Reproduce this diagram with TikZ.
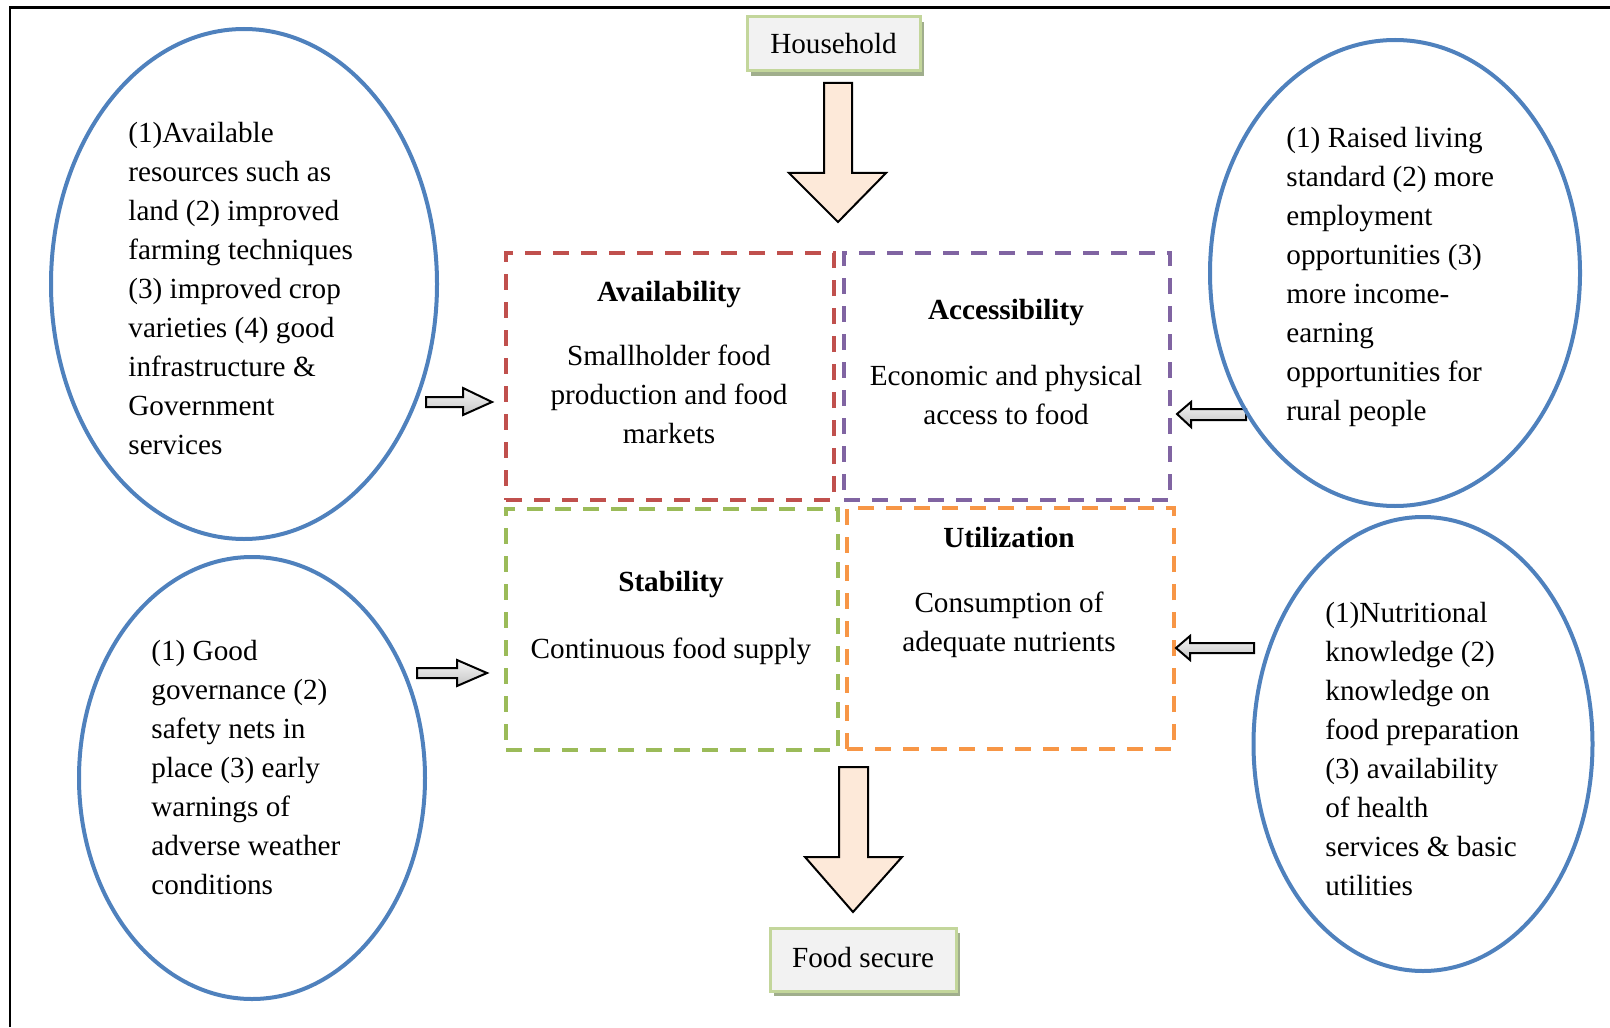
\documentclass[tikz,border=0pt]{standalone}
\usepackage{fontspec}
\setmainfont{Liberation Serif}
\usetikzlibrary{shapes.geometric,shadows}
\definecolor{ellblue}{HTML}{4F81BD}
\definecolor{availred}{HTML}{C0504D}
\definecolor{accpurple}{HTML}{8064A2}
\definecolor{stabgreen}{HTML}{9BBB59}
\definecolor{utilorange}{HTML}{F79646}
\definecolor{peach}{HTML}{FDE9D9}
\definecolor{tagborder}{HTML}{C3D69B}
\definecolor{tagfill}{HTML}{F2F2F2}
\definecolor{tagshadow}{RGB}{160,174,140}
\begin{document}
\begin{tikzpicture}[x=0.5pt,y=-0.5pt,
  txt/.style={inner sep=0pt, font=\fontsize{14.6}{19.5}\selectfont},
  ttl/.style={txt, font=\fontsize{14.6}{19.5}\selectfont\bfseries},
  pillar/.style={draw, dash pattern=on 8pt off 6pt, line width=1.8pt, inner sep=0pt},
  factor/.style={ellipse, draw=ellblue, line width=2pt, inner sep=0pt},
  tag/.style={draw=tagborder, fill=tagfill, line width=1.5pt, inner sep=0pt,
    txt, general shadow={fill=tagshadow, shadow xshift=2pt, shadow yshift=-2.5pt}},
  bigarrow/.style={draw=black, fill=peach, line width=1pt, line join=miter},
  smallarrow/.style={draw=black, top color=gray!8, bottom color=gray!45, line width=1pt, line join=miter}]
\useasboundingbox (0,0) rectangle (1610,1027);

% frame
\draw[line width=1.25pt] (10,1027) -- (10,7.5) -- (1610,7.5);

% start and end tags
\node[tag, minimum width=86.5pt, minimum height=27pt] (household) at (833.5,44) {\raisebox{-4.9pt}[0pt][0pt]{Household}};
\node[tag, minimum width=93pt, minimum height=31.5pt] (secure) at (863,959.5) {\strut Food secure};

% broad arrows in and out of the four pillars
\draw[bigarrow] (824,83) -- (852,83) -- (852,173) -- (886,173) -- (838,222) -- (789,173) -- (824,173) -- cycle;
\draw[bigarrow] (839,767) -- (868,767) -- (868,857) -- (902,857) -- (853,912) -- (805,857) -- (839,857) -- cycle;

% four pillars of food security
\node[pillar, draw=availred, minimum width=164pt, minimum height=123.5pt] (avail) at (670,376.5) {};
\node[pillar, draw=accpurple, minimum width=163pt, minimum height=123.5pt] (access) at (1007,376.5) {};
\node[pillar, draw=stabgreen, minimum width=166pt, minimum height=120.5pt] (stab) at (672,629.5) {};
\node[pillar, draw=utilorange, minimum width=163.5pt, minimum height=120.5pt] (util) at (1010.5,628.5) {};

\node[ttl] (availT) at (669,294) {\strut Availability};
\node[txt, align=center] (availB) at (669,396.5) {\strut Smallholder food\\production and food\\markets\strut};
\node[ttl] (accessT) at (1006,312) {\strut Accessibility};
\node[txt, align=center] (accessB) at (1006,397.5) {\strut Economic and physical\\access to food\strut};
\node[ttl] (stabT) at (671,584) {\strut Stability};
\node[txt] (stabB) at (671,651) {\strut Continuous food supply};
\node[ttl] (utilT) at (1009,540) {\strut Utilization};
\node[txt, align=center] (utilB) at (1009,624) {\strut Consumption of\\adequate nutrients\strut};

% small arrows from the contributing factors
\draw[smallarrow] (426,397) -- (463,397) -- (463,388) -- (492,402) -- (463,415) -- (463,407) -- (426,407) -- cycle;
\draw[smallarrow] (417,668) -- (457,668) -- (457,660) -- (487,673) -- (457,686) -- (457,678) -- (417,678) -- cycle;
\draw[smallarrow] (1246,409) -- (1191,409) -- (1191,402) -- (1177,414) -- (1191,427) -- (1191,420) -- (1246,420) -- cycle;
\draw[smallarrow] (1254,643) -- (1190,643) -- (1190,636) -- (1176,648) -- (1190,660) -- (1190,653) -- (1254,653) -- cycle;

% contributing factors
\node[factor, minimum width=193pt, minimum height=255pt] (f1) at (244,284) {};
\node[factor, minimum width=173pt, minimum height=221pt] (f2) at (252,778) {};
\node[factor, minimum width=185pt, minimum height=233pt] (f3) at (1395,273) {};
\node[factor, minimum width=169.5pt, minimum height=227pt] (f4) at (1423,744) {};

\node[txt, align=left, anchor=west] (f1t) at (128,291) {\strut(1)Available\\resources such as\\land (2) improved\\farming techniques\\(3) improved crop\\varieties (4) good\\infrastructure \&\\Government\\services\strut};
\node[txt, align=left, anchor=west] (f2t) at (151,770) {\strut(1) Good\\governance (2)\\safety nets in\\place (3) early\\warnings of\\adverse weather\\conditions\strut};
\node[txt, align=left, anchor=west] (f3t) at (1286,276.6) {\strut(1) Raised living\\standard (2) more\\employment\\opportunities (3)\\more income-\\earning\\opportunities for\\rural people\strut};
\node[txt, align=left, anchor=west] (f4t) at (1325,751.5) {\strut(1)Nutritional\\knowledge (2)\\knowledge on\\food preparation\\(3) availability\\of health\\services \& basic\\utilities\strut};
\end{tikzpicture}
\end{document}
